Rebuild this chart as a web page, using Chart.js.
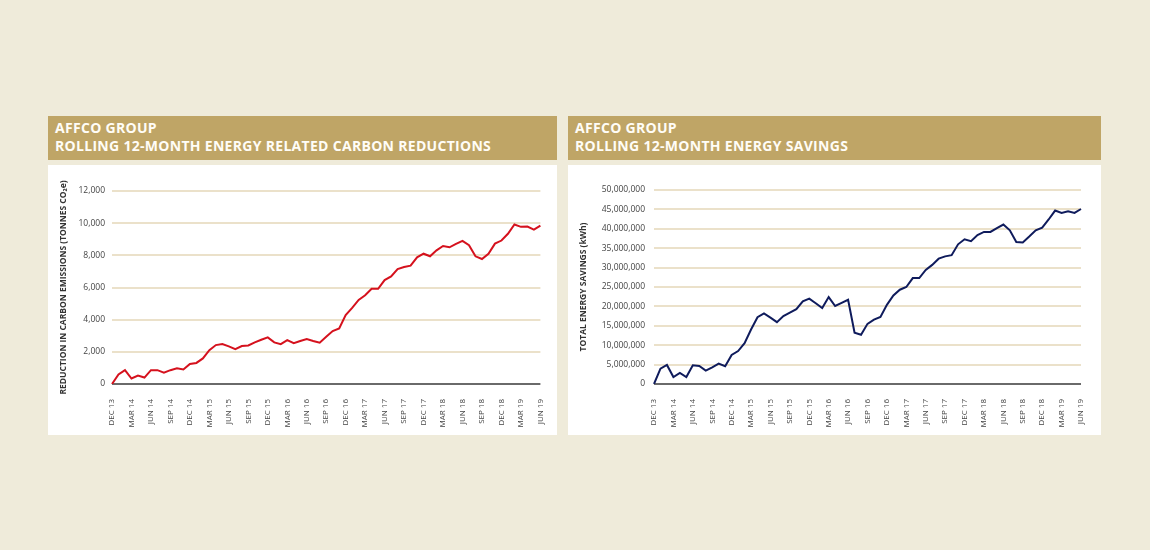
<!DOCTYPE html>
<html>
<head>
<meta charset="utf-8">
<script src="https://cdn.jsdelivr.net/npm/chart.js@4.4.1/dist/chart.umd.min.js"></script>
<style>
    body {
        margin: 0;
        width: 1150px;
        height: 550px;
        background: #efebda;
        position: relative;
        overflow: hidden;
        font-family: 'Open Sans', sans-serif;
    }
    .header {
        position: absolute;
        top: 116px;
        height: 44px;
        box-sizing: border-box;
        padding: 3px 0 0 7px;
        background: #bfa566;
        color: #fffdf7;
        font-weight: 700;
        font-size: 14px;
        line-height: 18px;
        letter-spacing: 0.3px;
    }
    .panel {
        position: absolute;
        top: 165px;
        height: 270px;
        background: #ffffff;
    }
    .panel canvas {
        display: block;
    }
</style>
</head>
<body>
    <div class="header" style="left:48px;width:509px">AFFCO GROUP<br>ROLLING 12-MONTH ENERGY RELATED CARBON REDUCTIONS</div>
    <div class="panel" style="left:48px;width:509px"><canvas id="carbonChart" width="509" height="270"></canvas></div>

    <div class="header" style="left:568px;width:533px">AFFCO GROUP<br>ROLLING 12-MONTH ENERGY SAVINGS</div>
    <div class="panel" style="left:568px;width:533px"><canvas id="energyChart" width="533" height="270"></canvas></div>

<script>
// Months Dec 13 .. Jun 19 (one point per month)
const months = [
    'DEC 13', 'JAN 14', 'FEB 14', 'MAR 14', 'APR 14', 'MAY 14', 'JUN 14', 'JUL 14', 'AUG 14', 'SEP 14', 'OCT 14', 'NOV 14',
    'DEC 14', 'JAN 15', 'FEB 15', 'MAR 15', 'APR 15', 'MAY 15', 'JUN 15', 'JUL 15', 'AUG 15', 'SEP 15', 'OCT 15', 'NOV 15',
    'DEC 15', 'JAN 16', 'FEB 16', 'MAR 16', 'APR 16', 'MAY 16', 'JUN 16', 'JUL 16', 'AUG 16', 'SEP 16', 'OCT 16', 'NOV 16',
    'DEC 16', 'JAN 17', 'FEB 17', 'MAR 17', 'APR 17', 'MAY 17', 'JUN 17', 'JUL 17', 'AUG 17', 'SEP 17', 'OCT 17', 'NOV 17',
    'DEC 17', 'JAN 18', 'FEB 18', 'MAR 18', 'APR 18', 'MAY 18', 'JUN 18', 'JUL 18', 'AUG 18', 'SEP 18', 'OCT 18', 'NOV 18',
    'DEC 18', 'JAN 19', 'FEB 19', 'MAR 19', 'APR 19', 'MAY 19', 'JUN 19',
]

// Only these months get a label on the x axis
const tickLabels = [
    'DEC 13', 'MAR 14', 'JUN 14', 'SEP 14', 'DEC 14', 'MAR 15', 'JUN 15', 'SEP 15', 'DEC 15', 'MAR 16', 'JUN 16', 'SEP 16',
    'DEC 16', 'MAR 17', 'JUN 17', 'SEP 17', 'DEC 17', 'MAR 18', 'JUN 18', 'SEP 18', 'DEC 18', 'MAR 19', 'JUN 19',
]

// Reduction in carbon emissions (tonnes CO2e)
const carbonReductions = [
    0, 590, 860, 340, 520, 400, 860, 860, 710, 860, 980, 900,
    1250, 1310, 1590, 2100, 2420, 2480, 2340, 2170, 2360, 2400, 2590, 2750,
    2900, 2590, 2480, 2730, 2540, 2670, 2790, 2670, 2570, 2940, 3290, 3460,
    4290, 4730, 5230, 5520, 5920, 5920, 6460, 6690, 7150, 7270, 7360, 7880,
    8100, 7940, 8310, 8580, 8500, 8710, 8900, 8630, 7940, 7770, 8100, 8730,
    8920, 9340, 9920, 9770, 9790, 9600, 9850,
]

// Total energy savings (kWh)
const energySavings = [
    0, 3970000, 4900000, 1800000, 2850000, 1800000, 4800000, 4650000, 3450000, 4300000, 5250000, 4570000,
    7500000, 8500000, 10500000, 14050000, 17200000, 18200000, 17100000, 15950000, 17500000, 18400000, 19300000, 21300000,
    22000000, 20800000, 19600000, 22400000, 20100000, 20900000, 21700000, 13200000, 12700000, 15500000, 16600000, 17300000,
    20400000, 22800000, 24300000, 25000000, 27300000, 27300000, 29400000, 30700000, 32300000, 32900000, 33200000, 36000000,
    37300000, 36800000, 38400000, 39200000, 39200000, 40200000, 41100000, 39600000, 36600000, 36500000, 38000000, 39600000,
    40300000, 42400000, 44700000, 44100000, 44500000, 44100000, 45100000,
]

const carbonAxis = { max: 12000, step: 2000 }
const energyAxis = { max: 50000000, step: 5000000 }

document.addEventListener('DOMContentLoaded', () => {
    const fontFamily = "'Open Sans', sans-serif"

    function makeChart(canvas, opts) {
        // eslint-disable-next-line no-new, no-undef
        new Chart(canvas, {
            type: 'line',
            data: {
                labels: months,
                datasets: [
                    {
                        data: opts.values,
                        borderColor: opts.color,
                        borderWidth: 2,
                        pointRadius: 0,
                        tension: 0,
                        fill: false,
                    },
                ],
            },
            options: {
                responsive: false,
                animation: false,
                layout: {
                    padding: { left: 0, right: opts.padRight, top: opts.padTop, bottom: 0 },
                },
                plugins: {
                    legend: { display: false },
                    tooltip: { enabled: false },
                },
                scales: {
                    x: {
                        grid: { display: false },
                        border: { display: false },
                        ticks: {
                            autoSkip: false,
                            minRotation: 90,
                            maxRotation: 90,
                            padding: 7,
                            color: '#444444',
                            font: { family: fontFamily, size: 8 },
                            callback: (value, index) => tickLabels.includes(months[index]) ? months[index] : '',
                        },
                        afterFit: scale => {
                            scale.height = 51
                        },
                    },
                    y: {
                        min: 0,
                        max: opts.axis.max,
                        grid: {
                            drawTicks: false,
                            color: c => c.tick && c.tick.value === 0 ? '#6a6a6a' : '#ebe1ca',
                            lineWidth: c => c.tick && c.tick.value === 0 ? 2 : 2,
                        },
                        border: { display: false },
                        ticks: {
                            stepSize: opts.axis.step,
                            padding: opts.tickPad,
                            color: '#444444',
                            font: { family: fontFamily, size: 8.5 },
                            callback: value => value.toLocaleString('en-US'),
                        },
                        title: {
                            display: true,
                            text: opts.title,
                            color: '#333333',
                            font: { family: fontFamily, size: 8.5, weight: 'bold' },
                            padding: { top: 10, bottom: 0 },
                        },
                        afterFit: scale => {
                            scale.width = opts.yWidth
                        },
                    },
                },
            },
        })
    }

    makeChart(document.getElementById('carbonChart'), {
        values: carbonReductions,
        color: '#d5111d',
        axis: carbonAxis,
        title: 'REDUCTION IN CARBON EMISSIONS (TONNES CO₂e)',
        yWidth: 64,
        padRight: 11,
        padTop: 26,
        tickPad: 7,
    })

    makeChart(document.getElementById('energyChart'), {
        values: energySavings,
        color: '#0f1b5c',
        axis: energyAxis,
        title: 'TOTAL ENERGY SAVINGS (kWh)',
        yWidth: 86,
        padRight: 20,
        padTop: 25,
        tickPad: 9,
    })
})
</script>
</body>
</html>
